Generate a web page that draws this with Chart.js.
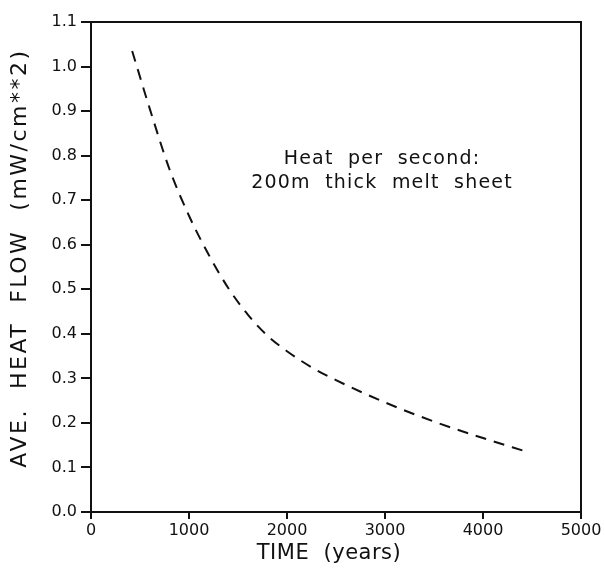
<!DOCTYPE html>
<html>
<head>
<meta charset="utf-8">
<script src="https://cdn.jsdelivr.net/npm/chart.js@4"></script>
<style>
html,body{margin:0;padding:0;background:#fff;}
#wrap{width:605px;height:568px;position:relative;}
</style>
</head>
<body>
<div id="wrap"><canvas id="c" width="605" height="568"></canvas></div>
<script>
// Data
const timeYears = [420, 600, 800, 1000, 1200, 1400, 1600, 1800, 2000, 2250, 2500, 3000, 3500, 4000, 4450];
const heatFlow  = [1.035, 0.905, 0.770, 0.665, 0.578, 0.503, 0.443, 0.396, 0.361, 0.325, 0.296, 0.246, 0.203, 0.166, 0.135];
const xTicks = [0, 1000, 2000, 3000, 4000, 5000];
const yTicks = [0.0, 0.1, 0.2, 0.3, 0.4, 0.5, 0.6, 0.7, 0.8, 0.9, 1.0, 1.1];
const annotationLines = ["Heat  per  second:", "200m  thick  melt  sheet"];
const xTitle = "TIME  (years)";
const yTitle = "AVE.  HEAT  FLOW  (mW/cm**2)";

const FONT = "'DejaVu Sans', sans-serif";

const framePlugin = {
  id: 'frame',
  beforeDraw(chart) {
    const ctx = chart.ctx;
    ctx.save();
    ctx.fillStyle = '#fff';
    ctx.fillRect(0, 0, chart.width, chart.height);
    ctx.restore();
  },
  afterDraw(chart) {
    const {ctx, chartArea: a, scales} = chart;
    ctx.save();
    ctx.strokeStyle = '#111';
    ctx.lineWidth = 2;
    ctx.strokeRect(a.left, a.top, a.right - a.left, a.bottom - a.top);
    ctx.fillStyle = '#111';
    ctx.textAlign = 'center';
    ctx.textBaseline = 'alphabetic';
    // annotation
    ctx.font = "19px " + FONT;
    ctx.letterSpacing = '1.2px';
    const cx = scales.x.getPixelForValue(3000);
    const y1 = scales.y.getPixelForValue(0.8);
    ctx.fillText(annotationLines[0], cx - 3, y1 + 8);
    ctx.fillText(annotationLines[1], cx - 3, y1 + 32);
    // x title
    ctx.font = "21px " + FONT;
    ctx.letterSpacing = '0.5px';
    ctx.fillText(xTitle, (a.left + a.right) / 2 - 7, 559);
    // y title
    ctx.save();
    ctx.translate(26, 258);
    ctx.rotate(-Math.PI / 2);
    ctx.font = "22px " + FONT;
    ctx.letterSpacing = '2.5px';
    ctx.fillText(yTitle, 0, 0);
    ctx.restore();
    ctx.restore();
  }
};

new Chart(document.getElementById('c'), {
  type: 'scatter',
  data: {
    datasets: [{
      data: timeYears.map((t, i) => ({x: t, y: heatFlow[i]})),
      showLine: true,
      borderColor: '#111',
      borderWidth: 2,
      borderDash: [11, 8],
      pointRadius: 0,
      cubicInterpolationMode: 'monotone',
      fill: false
    }]
  },
  options: {
    responsive: false,
    animation: false,
    layout: {padding: {left: 0, right: 24, top: 22, bottom: 0}},
    plugins: {legend: {display: false}, tooltip: {enabled: false}},
    scales: {
      x: {
        type: 'linear',
        min: 0, max: 5000,
        afterBuildTicks(s) { s.ticks = xTicks.map(v => ({value: v})); },
        afterFit(s) { s.height = 56; },
        grid: {display: true, drawOnChartArea: false, drawTicks: true, tickLength: 7, color: '#111', lineWidth: 2},
        border: {display: true, color: '#111', width: 2},
        ticks: {color: '#111', font: {family: FONT, size: 16}, padding: 2, maxRotation: 0,
                callback: v => String(v)},
        title: {display: false}
      },
      y: {
        type: 'linear',
        min: 0, max: 1.1,
        afterBuildTicks(s) { s.ticks = yTicks.map(v => ({value: v})); },
        afterFit(s) { s.width = 91; },
        grid: {display: true, drawOnChartArea: false, drawTicks: true, tickLength: 10, color: '#111', lineWidth: 2},
        border: {display: true, color: '#111', width: 2},
        ticks: {color: '#111', font: {family: FONT, size: 16}, padding: 4,
                callback: v => Number(v).toFixed(1)},
        title: {display: false}
      }
    }
  },
  plugins: [framePlugin]
});
</script>
</body>
</html>
